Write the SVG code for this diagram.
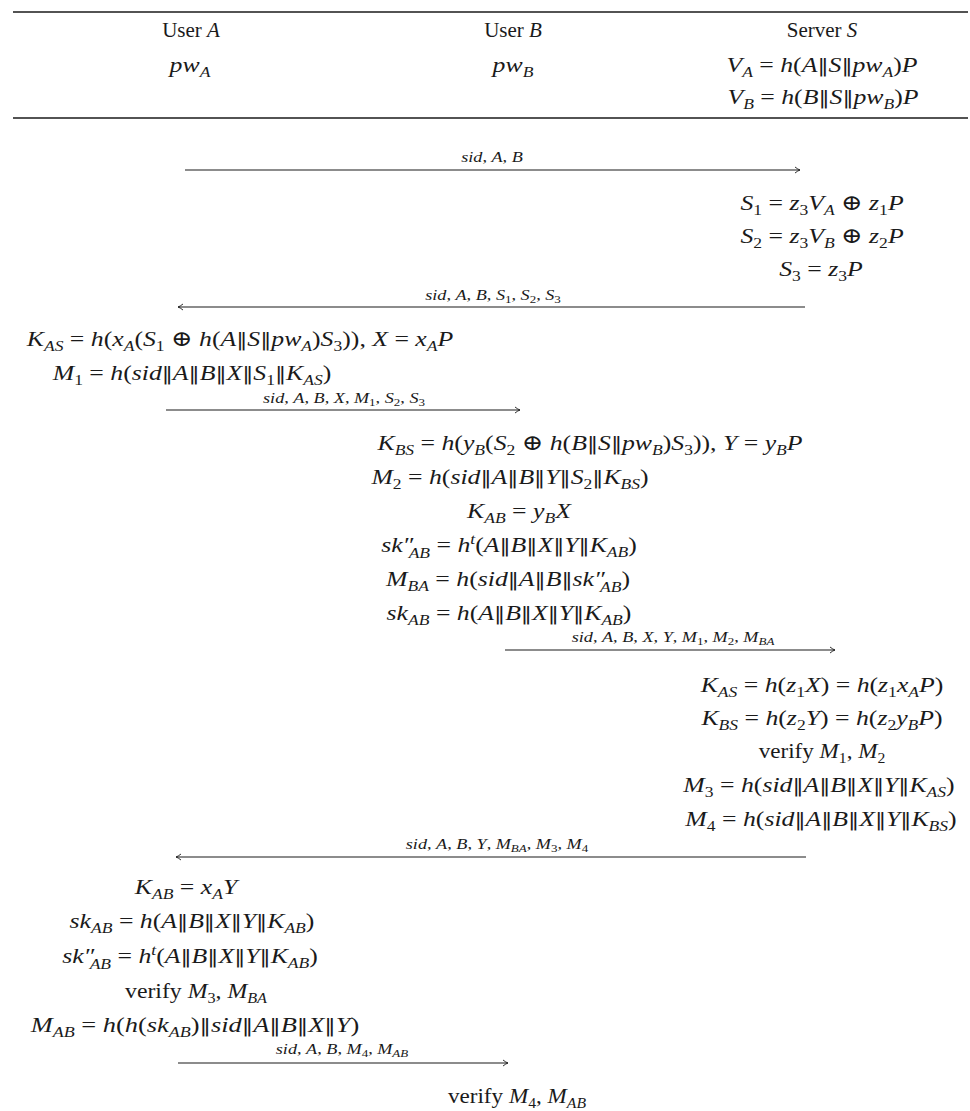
<svg xmlns="http://www.w3.org/2000/svg" width="970" height="1111" viewBox="0 0 970 1111">
  <style>
    .m { font-family: "Liberation Serif", "DejaVu Serif", serif; font-size: 22px; font-style: italic; fill: #1a1a1a; text-anchor: middle; }
    .h { font-family: "Liberation Serif", "DejaVu Serif", serif; font-size: 21px; fill: #1a1a1a; text-anchor: middle; }
    .u { font-style: normal; }
    .i { font-style: italic; }
    .b { font-family: "DejaVu Serif", serif; font-style: normal; font-size: 19px; }
    .s { font-size: 15px; }
    .l { font-family: "Liberation Serif", "DejaVu Serif", serif; font-size: 14px; font-style: italic; fill: #1a1a1a; text-anchor: middle; }
    .ls { font-size: 10px; }
    .rule { stroke: #1a1a1a; stroke-width: 1.4; }
    .msg { stroke: #1a1a1a; stroke-width: 1.1; fill: none; marker-end: url(#head); }
  </style>
  <defs>
    <marker id="head" markerUnits="userSpaceOnUse" markerWidth="10" markerHeight="10" refX="0" refY="0" viewBox="-7 -5 8 10" orient="auto">
      <path d="M -5 -3 Q -2 -0.6 0 0 Q -2 0.6 -5 3" fill="none" stroke="#1a1a1a" stroke-width="0.9"/>
    </marker>
  </defs>
  <rect width="970" height="1111" fill="#ffffff"/>

  <!-- table rules -->
  <line class="rule" x1="13" y1="12" x2="968" y2="12"/>
  <line class="rule" x1="13" y1="118" x2="968" y2="118"/>

  <!-- math lines are widened by scale(1.17 1) for a math-italic look; mixed text lines by 1.05 -->

  <!-- header: participants and their stored secrets -->
  <g id="user-a">
    <text class="h" x="191" y="37">User <tspan class="i">A</tspan></text>
    <text class="m" transform="translate(190 72) scale(1.17 1)">pw<tspan class="s" dy="5">A</tspan></text>
  </g>
  <g id="user-b">
    <text class="h" x="513" y="37">User <tspan class="i">B</tspan></text>
    <text class="m" transform="translate(513 72) scale(1.17 1)">pw<tspan class="s" dy="5">B</tspan></text>
  </g>
  <g id="server-s">
    <text class="h" x="822" y="37">Server <tspan class="i">S</tspan></text>
    <text class="m" transform="translate(822 72) scale(1.17 1)">V<tspan class="s" dy="5">A</tspan><tspan class="u" dy="-5"> = </tspan>h<tspan class="u">(</tspan>A<tspan class="b">‖</tspan>S<tspan class="b">‖</tspan>pw<tspan class="s" dy="5">A</tspan><tspan class="u" dy="-5">)</tspan>P</text>
    <text class="m" transform="translate(823 104) scale(1.17 1)">V<tspan class="s" dy="5">B</tspan><tspan class="u" dy="-5"> = </tspan>h<tspan class="u">(</tspan>B<tspan class="b">‖</tspan>S<tspan class="b">‖</tspan>pw<tspan class="s" dy="5">B</tspan><tspan class="u" dy="-5">)</tspan>P</text>
  </g>

  <!-- server: build S1, S2, S3 -->
  <g id="server-step1">
    <text class="m" transform="translate(822 210) scale(1.17 1)">S<tspan class="s u" dy="5">1</tspan><tspan class="u" dy="-5"> = </tspan>z<tspan class="s u" dy="5">3</tspan><tspan dy="-5">V</tspan><tspan class="s" dy="5">A</tspan><tspan class="u" dy="-5"> ⊕ </tspan>z<tspan class="s u" dy="5">1</tspan><tspan dy="-5">P</tspan></text>
    <text class="m" transform="translate(822 243) scale(1.17 1)">S<tspan class="s u" dy="5">2</tspan><tspan class="u" dy="-5"> = </tspan>z<tspan class="s u" dy="5">3</tspan><tspan dy="-5">V</tspan><tspan class="s" dy="5">B</tspan><tspan class="u" dy="-5"> ⊕ </tspan>z<tspan class="s u" dy="5">2</tspan><tspan dy="-5">P</tspan></text>
    <text class="m" transform="translate(821 276) scale(1.17 1)">S<tspan class="s u" dy="5">3</tspan><tspan class="u" dy="-5"> = </tspan>z<tspan class="s u" dy="5">3</tspan><tspan dy="-5">P</tspan></text>
  </g>

  <!-- user A: session key with server and first MAC -->
  <g id="user-a-step1">
    <text class="m" transform="translate(240 346) scale(1.17 1)">K<tspan class="s" dy="5">AS</tspan><tspan class="u" dy="-5"> = </tspan>h<tspan class="u">(</tspan>x<tspan class="s" dy="5">A</tspan><tspan class="u" dy="-5">(</tspan>S<tspan class="s u" dy="5">1</tspan><tspan class="u" dy="-5"> ⊕ </tspan>h<tspan class="u">(</tspan>A<tspan class="b">‖</tspan>S<tspan class="b">‖</tspan>pw<tspan class="s" dy="5">A</tspan><tspan class="u" dy="-5">)</tspan>S<tspan class="s u" dy="5">3</tspan><tspan class="u" dy="-5">)), </tspan>X<tspan class="u"> = </tspan>x<tspan class="s" dy="5">A</tspan><tspan dy="-5">P</tspan></text>
    <text class="m" transform="translate(192 380) scale(1.17 1)">M<tspan class="s u" dy="5">1</tspan><tspan class="u" dy="-5"> = </tspan>h<tspan class="u">(</tspan>sid<tspan class="b">‖</tspan>A<tspan class="b">‖</tspan>B<tspan class="b">‖</tspan>X<tspan class="b">‖</tspan>S<tspan class="s u" dy="5">1</tspan><tspan class="b" dy="-5">‖</tspan>K<tspan class="s" dy="5">AS</tspan><tspan class="u" dy="-5">)</tspan></text>
  </g>

  <!-- user B: keys, MAC and session key -->
  <g id="user-b-step1">
    <text class="m" transform="translate(590 450) scale(1.17 1)">K<tspan class="s" dy="5">BS</tspan><tspan class="u" dy="-5"> = </tspan>h<tspan class="u">(</tspan>y<tspan class="s" dy="5">B</tspan><tspan class="u" dy="-5">(</tspan>S<tspan class="s u" dy="5">2</tspan><tspan class="u" dy="-5"> ⊕ </tspan>h<tspan class="u">(</tspan>B<tspan class="b">‖</tspan>S<tspan class="b">‖</tspan>pw<tspan class="s" dy="5">B</tspan><tspan class="u" dy="-5">)</tspan>S<tspan class="s u" dy="5">3</tspan><tspan class="u" dy="-5">)), </tspan>Y<tspan class="u"> = </tspan>y<tspan class="s" dy="5">B</tspan><tspan dy="-5">P</tspan></text>
    <text class="m" transform="translate(510 484) scale(1.17 1)">M<tspan class="s u" dy="5">2</tspan><tspan class="u" dy="-5"> = </tspan>h<tspan class="u">(</tspan>sid<tspan class="b">‖</tspan>A<tspan class="b">‖</tspan>B<tspan class="b">‖</tspan>Y<tspan class="b">‖</tspan>S<tspan class="s u" dy="5">2</tspan><tspan class="b" dy="-5">‖</tspan>K<tspan class="s" dy="5">BS</tspan><tspan class="u" dy="-5">)</tspan></text>
    <text class="m" transform="translate(519 518) scale(1.17 1)">K<tspan class="s" dy="5">AB</tspan><tspan class="u" dy="-5"> = </tspan>y<tspan class="s" dy="5">B</tspan><tspan dy="-5">X</tspan></text>
    <text class="m" transform="translate(509 552) scale(1.17 1)">sk″<tspan class="s" dx="-4" dy="6">AB</tspan><tspan class="u" dy="-6"> = </tspan>h<tspan class="s" dy="-8">t</tspan><tspan class="u" dy="8">(</tspan>A<tspan class="b">‖</tspan>B<tspan class="b">‖</tspan>X<tspan class="b">‖</tspan>Y<tspan class="b">‖</tspan>K<tspan class="s" dy="5">AB</tspan><tspan class="u" dy="-5">)</tspan></text>
    <text class="m" transform="translate(508 586) scale(1.17 1)">M<tspan class="s" dy="5">BA</tspan><tspan class="u" dy="-5"> = </tspan>h<tspan class="u">(</tspan>sid<tspan class="b">‖</tspan>A<tspan class="b">‖</tspan>B<tspan class="b">‖</tspan>sk″<tspan class="s" dx="-4" dy="6">AB</tspan><tspan class="u" dy="-6">)</tspan></text>
    <text class="m" transform="translate(509 620) scale(1.17 1)">sk<tspan class="s" dy="5">AB</tspan><tspan class="u" dy="-5"> = </tspan>h<tspan class="u">(</tspan>A<tspan class="b">‖</tspan>B<tspan class="b">‖</tspan>X<tspan class="b">‖</tspan>Y<tspan class="b">‖</tspan>K<tspan class="s" dy="5">AB</tspan><tspan class="u" dy="-5">)</tspan></text>
  </g>

  <!-- server: recover keys, verify, reply MACs -->
  <g id="server-step2">
    <text class="m" transform="translate(822 692) scale(1.17 1)">K<tspan class="s" dy="5">AS</tspan><tspan class="u" dy="-5"> = </tspan>h<tspan class="u">(</tspan>z<tspan class="s u" dy="5">1</tspan><tspan dy="-5">X</tspan><tspan class="u">) = </tspan>h<tspan class="u">(</tspan>z<tspan class="s u" dy="5">1</tspan><tspan dy="-5">x</tspan><tspan class="s" dy="5">A</tspan><tspan dy="-5">P</tspan><tspan class="u">)</tspan></text>
    <text class="m" transform="translate(822 725) scale(1.17 1)">K<tspan class="s" dy="5">BS</tspan><tspan class="u" dy="-5"> = </tspan>h<tspan class="u">(</tspan>z<tspan class="s u" dy="5">2</tspan><tspan dy="-5">Y</tspan><tspan class="u">) = </tspan>h<tspan class="u">(</tspan>z<tspan class="s u" dy="5">2</tspan><tspan dy="-5">y</tspan><tspan class="s" dy="5">B</tspan><tspan dy="-5">P</tspan><tspan class="u">)</tspan></text>
    <text class="m" transform="translate(822 758) scale(1.05 1)"><tspan class="u">verify </tspan>M<tspan class="s u" dy="5">1</tspan><tspan class="u" dy="-5">, </tspan>M<tspan class="s u" dy="5">2</tspan></text>
    <text class="m" transform="translate(819 792) scale(1.17 1)">M<tspan class="s u" dy="5">3</tspan><tspan class="u" dy="-5"> = </tspan>h<tspan class="u">(</tspan>sid<tspan class="b">‖</tspan>A<tspan class="b">‖</tspan>B<tspan class="b">‖</tspan>X<tspan class="b">‖</tspan>Y<tspan class="b">‖</tspan>K<tspan class="s" dy="5">AS</tspan><tspan class="u" dy="-5">)</tspan></text>
    <text class="m" transform="translate(821 826) scale(1.17 1)">M<tspan class="s u" dy="5">4</tspan><tspan class="u" dy="-5"> = </tspan>h<tspan class="u">(</tspan>sid<tspan class="b">‖</tspan>A<tspan class="b">‖</tspan>B<tspan class="b">‖</tspan>X<tspan class="b">‖</tspan>Y<tspan class="b">‖</tspan>K<tspan class="s" dy="5">BS</tspan><tspan class="u" dy="-5">)</tspan></text>
  </g>

  <!-- user A: derive session key, verify, confirm -->
  <g id="user-a-step2">
    <text class="m" transform="translate(186 894) scale(1.17 1)">K<tspan class="s" dy="5">AB</tspan><tspan class="u" dy="-5"> = </tspan>x<tspan class="s" dy="5">A</tspan><tspan dy="-5">Y</tspan></text>
    <text class="m" transform="translate(192 928) scale(1.17 1)">sk<tspan class="s" dy="5">AB</tspan><tspan class="u" dy="-5"> = </tspan>h<tspan class="u">(</tspan>A<tspan class="b">‖</tspan>B<tspan class="b">‖</tspan>X<tspan class="b">‖</tspan>Y<tspan class="b">‖</tspan>K<tspan class="s" dy="5">AB</tspan><tspan class="u" dy="-5">)</tspan></text>
    <text class="m" transform="translate(190 963) scale(1.17 1)">sk″<tspan class="s" dx="-4" dy="6">AB</tspan><tspan class="u" dy="-6"> = </tspan>h<tspan class="s" dy="-8">t</tspan><tspan class="u" dy="8">(</tspan>A<tspan class="b">‖</tspan>B<tspan class="b">‖</tspan>X<tspan class="b">‖</tspan>Y<tspan class="b">‖</tspan>K<tspan class="s" dy="5">AB</tspan><tspan class="u" dy="-5">)</tspan></text>
    <text class="m" transform="translate(196 998) scale(1.08 1)"><tspan class="u">verify </tspan>M<tspan class="s u" dy="5">3</tspan><tspan class="u" dy="-5">, </tspan>M<tspan class="s" dy="5">BA</tspan></text>
    <text class="m" transform="translate(195 1032) scale(1.2 1)">M<tspan class="s" dy="5">AB</tspan><tspan class="u" dy="-5"> = </tspan>h<tspan class="u">(</tspan>h<tspan class="u">(</tspan>sk<tspan class="s" dy="5">AB</tspan><tspan class="u" dy="-5">)</tspan><tspan class="b">‖</tspan>sid<tspan class="b">‖</tspan>A<tspan class="b">‖</tspan>B<tspan class="b">‖</tspan>X<tspan class="b">‖</tspan>Y<tspan class="u">)</tspan></text>
  </g>

  <!-- user B: final check -->
  <g id="user-b-step2">
    <text class="m" transform="translate(517 1103) scale(1.05 1)"><tspan class="u">verify </tspan>M<tspan class="s u" dy="5">4</tspan><tspan class="u" dy="-5">, </tspan>M<tspan class="s" dy="5">AB</tspan></text>
  </g>

  <!-- messages -->
  <g id="connectors">
    <line class="msg" x1="185" y1="170" x2="800" y2="170"/>
    <text class="l" transform="translate(492 162) scale(1.3 1)">sid<tspan class="u">, </tspan>A<tspan class="u">, </tspan>B</text>

    <line class="msg" x1="805" y1="307" x2="178" y2="307"/>
    <text class="l" transform="translate(493 300) scale(1.3 1)">sid<tspan class="u">, </tspan>A<tspan class="u">, </tspan>B<tspan class="u">, </tspan>S<tspan class="ls u" dy="3">1</tspan><tspan class="u" dy="-3">, </tspan>S<tspan class="ls u" dy="3">2</tspan><tspan class="u" dy="-3">, </tspan>S<tspan class="ls u" dy="3">3</tspan></text>

    <line class="msg" x1="166" y1="410" x2="520" y2="410"/>
    <text class="l" transform="translate(344 403) scale(1.3 1)">sid<tspan class="u">, </tspan>A<tspan class="u">, </tspan>B<tspan class="u">, </tspan>X<tspan class="u">, </tspan>M<tspan class="ls u" dy="3">1</tspan><tspan class="u" dy="-3">, </tspan>S<tspan class="ls u" dy="3">2</tspan><tspan class="u" dy="-3">, </tspan>S<tspan class="ls u" dy="3">3</tspan></text>

    <line class="msg" x1="505" y1="650" x2="835" y2="650"/>
    <text class="l" transform="translate(673 642) scale(1.3 1)">sid<tspan class="u">, </tspan>A<tspan class="u">, </tspan>B<tspan class="u">, </tspan>X<tspan class="u">, </tspan>Y<tspan class="u">, </tspan>M<tspan class="ls u" dy="3">1</tspan><tspan class="u" dy="-3">, </tspan>M<tspan class="ls u" dy="3">2</tspan><tspan class="u" dy="-3">, </tspan>M<tspan class="ls" dy="3">BA</tspan></text>

    <line class="msg" x1="806" y1="857" x2="176" y2="857"/>
    <text class="l" transform="translate(497 849) scale(1.3 1)">sid<tspan class="u">, </tspan>A<tspan class="u">, </tspan>B<tspan class="u">, </tspan>Y<tspan class="u">, </tspan>M<tspan class="ls" dy="3">BA</tspan><tspan class="u" dy="-3">, </tspan>M<tspan class="ls u" dy="3">3</tspan><tspan class="u" dy="-3">, </tspan>M<tspan class="ls u" dy="3">4</tspan></text>

    <line class="msg" x1="178" y1="1063" x2="508" y2="1063"/>
    <text class="l" transform="translate(342 1054) scale(1.3 1)">sid<tspan class="u">, </tspan>A<tspan class="u">, </tspan>B<tspan class="u">, </tspan>M<tspan class="ls u" dy="3">4</tspan><tspan class="u" dy="-3">, </tspan>M<tspan class="ls" dy="3">AB</tspan></text>
  </g>
</svg>
